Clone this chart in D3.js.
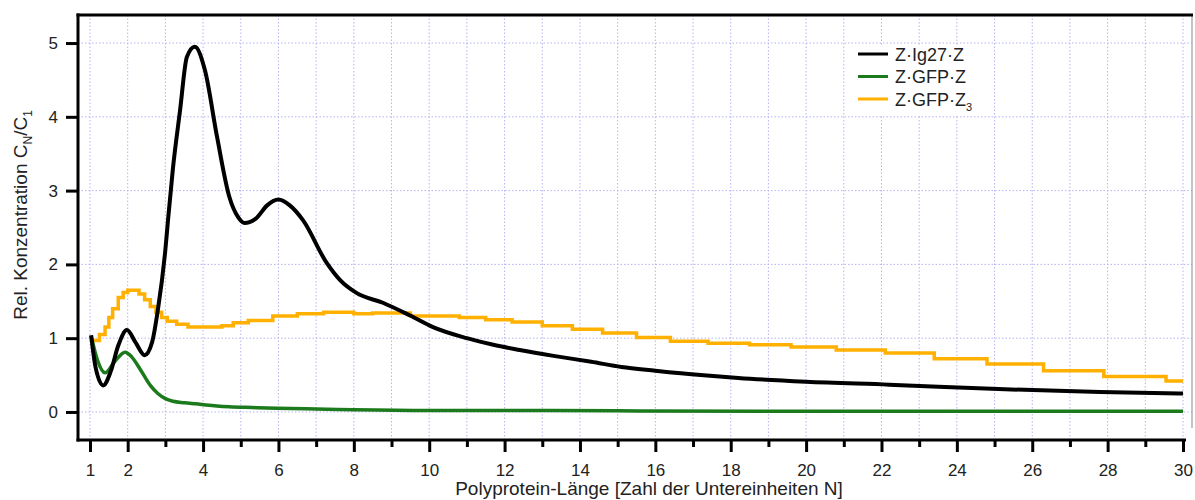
<!DOCTYPE html>
<html>
<head>
<meta charset="utf-8">
<script src="https://cdn.jsdelivr.net/npm/d3@7"></script>
<style>
  body { margin: 0; background: #fff; }
  svg { display: block; font-family: "Liberation Sans", Arial, sans-serif; }
</style>
</head>
<body>
<svg id="chart" width="1195" height="500"></svg>
<script>
// Relative concentration C_N/C_1 versus polyprotein length N
const xTicks = [1, 2, 4, 6, 8, 10, 12, 14, 16, 18, 20, 22, 24, 26, 28, 30];
const xMinorTicks = [3, 5, 7, 9, 11, 13, 15, 17, 19, 21, 23, 25, 27, 29];
const yTicks = [0, 1, 2, 3, 4, 5];

// Z·Ig27·Z
const ig27N = [1.03,1.15,1.35,1.55,1.75,1.98,2.2,2.45,2.65,2.8,3.0,3.07,3.2,3.39,3.57,3.78,4.05,4.37,4.7,4.93,5.1,5.4,5.7,6.0,6.3,6.65,7.28,7.63,8.08,8.77,9.48,10.1,11.0,11.7,12.4,13.3,14.3,15.1,16,17.2,18.2,20,22.2,25.1,27.8,30];
const ig27V = [1.04,0.6,0.36,0.55,0.9,1.11,0.95,0.77,0.95,1.38,2.2,2.6,3.3,4.09,4.81,4.95,4.63,3.73,2.91,2.64,2.56,2.62,2.8,2.88,2.8,2.6,2.02,1.79,1.61,1.48,1.31,1.15,1.0,0.91,0.84,0.76,0.68,0.61,0.56,0.50,0.46,0.41,0.37,0.31,0.27,0.25];

// Z·GFP·Z
const gfpN = [1.03,1.2,1.4,1.65,1.93,2.1,2.33,2.6,2.8,3.0,3.2,3.5,3.8,4.3,4.7,5.3,5.95,7,8,10,12,15,20,25,30];
const gfpV = [1.03,0.7,0.53,0.68,0.81,0.75,0.58,0.36,0.25,0.18,0.145,0.125,0.11,0.085,0.07,0.06,0.05,0.04,0.03,0.02,0.02,0.015,0.01,0.01,0.01];

// Z·GFP·Z3 (stepped)
const gfp3N = [1.08,1.25,1.4,1.5,1.6,1.75,1.88,2.0,2.3,2.45,2.6,2.75,2.9,3.05,3.3,3.6,4.5,4.8,5.2,5.85,6.5,7.2,8.0,8.5,9.5,10.8,11.5,12.2,13.0,13.8,14.6,15.5,16.4,17.4,18.5,19.6,20.8,22.1,23.4,24.8,26.3,27.9,29.55,30];
const gfp3V = [0.97,1.05,1.15,1.28,1.4,1.55,1.62,1.65,1.6,1.52,1.43,1.35,1.28,1.23,1.19,1.15,1.17,1.21,1.24,1.30,1.33,1.35,1.33,1.34,1.30,1.28,1.25,1.22,1.17,1.12,1.07,1.01,0.96,0.93,0.91,0.88,0.84,0.80,0.72,0.65,0.56,0.48,0.42,0.42];

const svg = d3.select("#chart");
const plotLeft = 78, plotRight = 1192, plotTop = 15, plotBottom = 440;

const x = d3.scaleLinear().domain([1, 30]).range([90, 1183]);
const y = d3.scaleLinear().domain([-0.38, 5.38]).range([plotBottom, plotTop]);

// grid
const grid = svg.append("g").attr("stroke", "#b4b4f4").attr("stroke-width", 1).attr("stroke-dasharray", "1.5,2");
grid.selectAll("line.v").data(d3.range(1, 31)).enter().append("line")
  .attr("x1", d => x(d)).attr("x2", d => x(d)).attr("y1", plotTop).attr("y2", plotBottom);
grid.selectAll("line.h").data(yTicks).enter().append("line")
  .attr("x1", plotLeft).attr("x2", plotRight).attr("y1", d => y(d)).attr("y2", d => y(d));

// frame
svg.append("line").attr("x1", plotRight).attr("x2", plotRight).attr("y1", plotTop).attr("y2", plotBottom - 12)
  .attr("stroke", "#888").attr("stroke-width", 1);
svg.append("line").attr("x1", plotLeft - 1.5).attr("x2", plotRight + 1).attr("y1", plotTop).attr("y2", plotTop)
  .attr("stroke", "#000").attr("stroke-width", 3);

// lines
const toPts = (ns, vs) => ns.map((n, i) => [n, vs[i]]);
const smooth = d3.line().x(d => x(d[0])).y(d => y(d[1])).curve(d3.curveMonotoneX);
const step = d3.line().x(d => x(d[0])).y(d => y(d[1])).curve(d3.curveStepAfter);

svg.append("path").attr("d", step(toPts(gfp3N, gfp3V)))
  .attr("fill", "none").attr("stroke", "#ffb000").attr("stroke-width", 3.5);
svg.append("path").attr("d", smooth(toPts(gfpN, gfpV)))
  .attr("fill", "none").attr("stroke", "#1b7a1b").attr("stroke-width", 3.5).attr("stroke-linejoin", "round");
svg.append("path").attr("d", smooth(toPts(ig27N, ig27V)))
  .attr("fill", "none").attr("stroke", "#000").attr("stroke-width", 4).attr("stroke-linejoin", "round");

// axes
const xAxis = d3.axisBottom(x).tickValues(xTicks).tickSize(12).tickPadding(12).tickFormat(d3.format("d"));
const gx = svg.append("g").attr("transform", `translate(0,${plotBottom})`).call(xAxis);
gx.select(".domain").remove();
gx.selectAll(".tick line").attr("stroke-width", 3);
gx.selectAll("text").attr("font-size", 17).attr("fill", "#222").attr("font-family", "Liberation Sans, Arial, sans-serif");
const gxm = svg.append("g").attr("transform", `translate(0,${plotBottom})`)
  .call(d3.axisBottom(x).tickValues(xMinorTicks).tickSize(7).tickFormat(""));
gxm.select(".domain").remove();
gxm.selectAll(".tick line").attr("stroke-width", 3);
svg.append("line").attr("x1", plotLeft - 1.5).attr("x2", 1186).attr("y1", plotBottom).attr("y2", plotBottom)
  .attr("stroke", "#000").attr("stroke-width", 3);

const yAxis = d3.axisLeft(y).tickValues(yTicks).tickSize(12).tickPadding(8).tickFormat(d3.format("d"));
const gy = svg.append("g").attr("transform", `translate(${plotLeft},0)`).call(yAxis);
gy.select(".domain").remove();
gy.selectAll(".tick line").attr("stroke-width", 3);
gy.selectAll("text").attr("font-size", 17).attr("fill", "#222").attr("font-family", "Liberation Sans, Arial, sans-serif");
svg.append("line").attr("x1", plotLeft).attr("x2", plotLeft).attr("y1", plotTop - 1.5).attr("y2", plotBottom + 1.5)
  .attr("stroke", "#000").attr("stroke-width", 3);

// axis titles
svg.append("text").attr("x", 649).attr("y", 495).attr("text-anchor", "middle")
  .attr("font-size", 19).attr("fill", "#222").text("Polyprotein-Länge [Zahl der Untereinheiten N]");
const yt = svg.append("text").attr("transform", "translate(27,215) rotate(-90)")
  .attr("text-anchor", "middle").attr("font-size", 19).attr("fill", "#222");
yt.append("tspan").text("Rel. Konzentration C");
yt.append("tspan").attr("font-size", 12).attr("dy", 5).text("N");
yt.append("tspan").attr("dy", -5).text("/C");
yt.append("tspan").attr("font-size", 12).attr("dy", 5).text("1");

// legend
const legendNames = ["Z·Ig27·Z", "Z·GFP·Z", "Z·GFP·Z"];
const legendColors = ["#000", "#1b7a1b", "#ffb000"];
const lg = svg.append("g");
lg.append("rect").attr("x", 850).attr("y", 45).attr("width", 140).attr("height", 70).attr("fill", "#fff");
legendNames.forEach((name, i) => {
  const yy = 54 + i * 22.5;
  lg.append("line").attr("x1", 858).attr("x2", 888).attr("y1", yy).attr("y2", yy)
    .attr("stroke", legendColors[i]).attr("stroke-width", 3);
  const t = lg.append("text").attr("x", 895).attr("y", yy + 6.5).attr("font-size", 18).attr("fill", "#222").text(name);
  if (i === 2) t.append("tspan").attr("font-size", 11).attr("dy", 5).text("3");
});
</script>
</body>
</html>
